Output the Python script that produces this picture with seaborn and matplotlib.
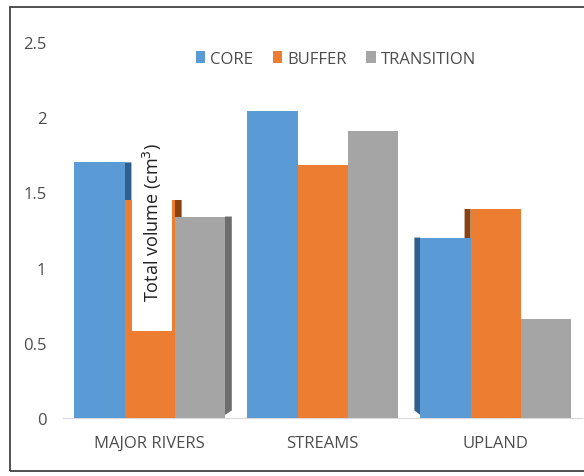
import matplotlib
matplotlib.use('Agg')
import matplotlib.pyplot as plt
import seaborn as sns
import pandas as pd
from matplotlib.patches import Rectangle, Polygon

# данные
categories = ['MAJOR RIVERS', 'STREAMS', 'UPLAND']
series = ['CORE', 'BUFFER', 'TRANSITION']
core = [1.70, 2.04, 1.20]
buffer_ = [1.45, 1.68, 1.39]
transition = [1.34, 1.91, 0.66]
y_ticks = [0, 0.5, 1, 1.5, 2, 2.5]
y_tick_labels = ['0', '0.5', '1', '1.5', '2', '2.5']

colors = ['#5B9BD5', '#ED7D31', '#A5A5A5']
dark = ['#2F5F8C', '#8A4310', '#6E6E6E']

rows = []
for s, vals in zip(series, [core, buffer_, transition]):
    for c, v in zip(categories, vals):
        rows.append({'cat': c, 'series': s, 'value': v})
df = pd.DataFrame(rows)

sns.set_style('white')
plt.rcParams['font.family'] = ['Open Sans', 'DejaVu Sans']

fig = plt.figure(figsize=(5.84, 4.77), dpi=100)
ax = fig.add_axes([0.108, 0.1216, 0.889, 0.788])

sns.barplot(data=df, x='cat', y='value', hue='series', order=categories,
            hue_order=series, palette=colors, width=0.87, gap=0,
            saturation=1, linewidth=0, ax=ax, zorder=3, errorbar=None)

# псевдо-3D боковые грани
depth = [0.04, 0.0, -0.035]
for patch in ax.patches:
    x0, w, h = patch.get_x(), patch.get_width(), patch.get_height()
    if w == 0 or h == 0:
        continue
    gi = int(round(x0 + w / 2))
    d = depth[gi]
    if d == 0:
        continue
    si = [c.lower() for c in colors].index(
        matplotlib.colors.to_hex(patch.get_facecolor()).lower())
    xe = x0 + w if d > 0 else x0
    poly = Polygon([(xe, 0.02), (xe + d, 0.05), (xe + d, h), (xe, h)],
                   closed=True, facecolor=dark[si], edgecolor='none', zorder=2)
    ax.add_patch(poly)

ax.set_ylim(0, 2.5)
ax.set_xlim(-0.5, 2.5)
ax.set_yticks(y_ticks)
ax.set_yticklabels(y_tick_labels)
ax.set_xlabel('')
ax.set_ylabel('')
ax.tick_params(axis='both', length=0, labelsize=12, labelcolor='#4D4D4D')
ax.tick_params(axis='y', pad=12)
ax.tick_params(axis='x', pad=12)
for side in ['top', 'right', 'left']:
    ax.spines[side].set_visible(False)
ax.spines['bottom'].set_color('#D9D9D9')
ax.patch.set_alpha(0)

leg = ax.legend(loc='center', bbox_to_anchor=(0.575, 0.875), bbox_transform=fig.transFigure,
                ncol=3, frameon=False, handlelength=0.55, handleheight=0.8,
                handletextpad=0.3, columnspacing=1.2, fontsize=12)
for t in leg.get_texts():
    t.set_color('#4D4D4D')

# белая плашка с подписью оси, наложенная на столбцы
fig.patches.append(Rectangle((132 / 584, 1 - 332 / 477), 40 / 584, 205 / 477,
                             transform=fig.transFigure, facecolor='white',
                             edgecolor='none', zorder=5))
fig.text(152 / 584, 1 - 222 / 477, 'Total volume (cm$^3$)', rotation=90,
         ha='center', va='center', fontsize=13, color='#222222', zorder=6)

# рамка
fig.patches.append(Rectangle((10 / 584, 1 - 472 / 477), 0.99, 464 / 477,
                             transform=fig.transFigure, facecolor='none',
                             edgecolor='#333333', linewidth=1.2, zorder=10))

plt.savefig('out.png', dpi=100)
plt.close()
